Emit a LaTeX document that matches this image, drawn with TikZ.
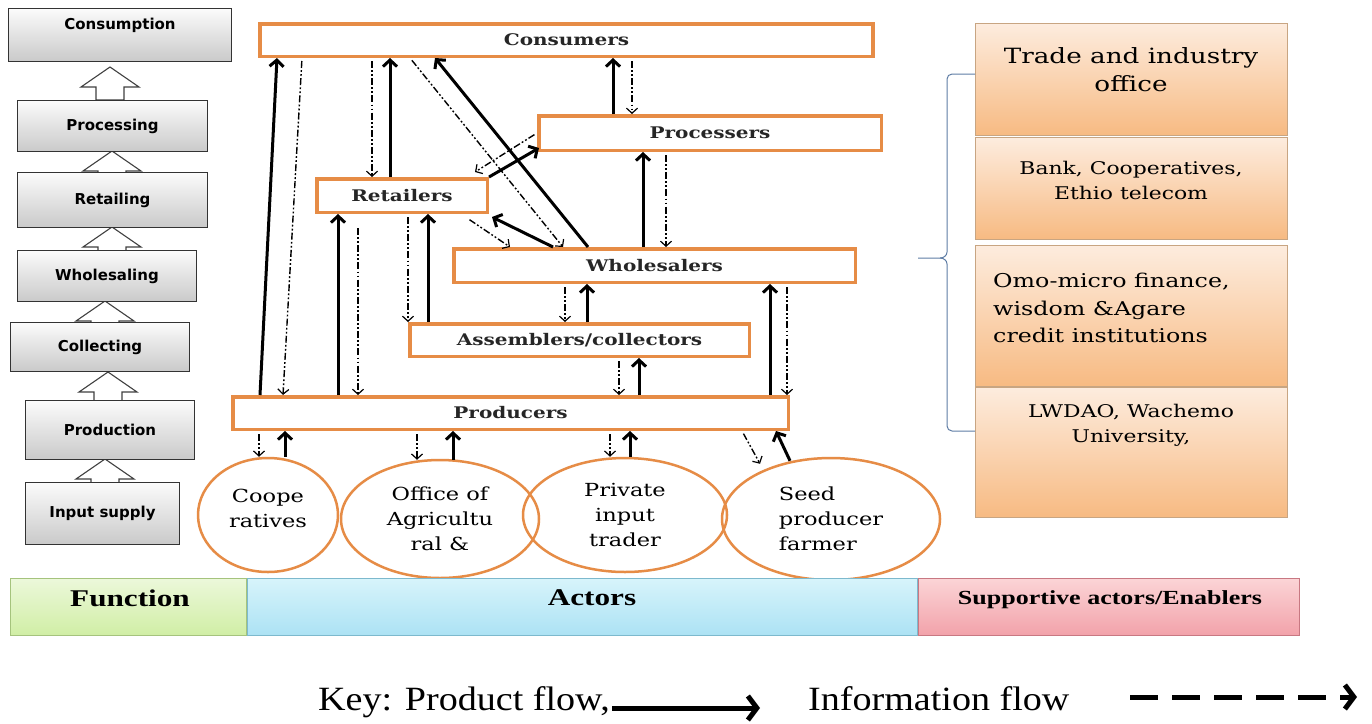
\documentclass[tikz,border=0pt]{standalone}
\usepackage{fontspec}
\setmainfont{DejaVu Serif}
\newfontfamily\lsans{DejaVu Sans}
\newfontfamily\wserif{DejaVu Serif}[FakeStretch=1.25]
\newfontfamily\bserif{Liberation Serif}[FakeStretch=1.3]
\newfontfamily\kserif{Liberation Serif}[FakeStretch=1.12]
\usetikzlibrary{arrows.meta,calc,shapes.geometric}
\definecolor{orng}{RGB}{230,140,70}
\definecolor{rtop}{RGB}{253,236,222}
\definecolor{rbot}{RGB}{247,186,130}
\definecolor{rbord}{RGB}{200,165,130}
\definecolor{gtop}{RGB}{236,248,218}
\definecolor{gbot}{RGB}{208,238,165}
\definecolor{gbord}{RGB}{165,195,125}
\definecolor{ctop}{RGB}{215,244,251}
\definecolor{cbot}{RGB}{172,226,244}
\definecolor{cbord}{RGB}{125,185,205}
\definecolor{ptop}{RGB}{251,212,214}
\definecolor{pbot}{RGB}{242,162,170}
\definecolor{pbord}{RGB}{200,120,130}
\definecolor{brace}{RGB}{95,125,165}
\newcommand{\hup}[3]{\draw[harrow] (#1,#2) -- ++(29,20) -- ++(-15,0) -- (#1+14,#3) -- (#1-14,#3) -- (#1-14,#2+20) -- ++(-15,0) -- cycle;}
\begin{document}
\begin{tikzpicture}[x=1pt,y=-1pt,
  lbox/.style={draw=black!80, line width=1.3pt, top color=gray!3, bottom color=gray!42, inner sep=0pt, font=\lsans\bfseries\fontsize{15}{18}\selectfont},
  ltext/.style={inner sep=0pt, font=\lsans\bfseries\fontsize{15}{18}\selectfont},
  harrow/.style={draw=black!75, line width=1.1pt, fill=white, line join=miter},
  abox/.style={draw=orng, line width=3.5pt, fill=white, inner sep=0pt, font=\wserif\bfseries\fontsize{16}{18}\selectfont, text=black!85},
  ell/.style={ellipse, draw=orng, line width=2.5pt, inner sep=0pt, align=center, font=\wserif\fontsize{18}{25}\selectfont},
  rbox/.style={draw=rbord, line width=1pt, top color=rtop, bottom color=rbot, inner sep=0pt, minimum width=312pt},
  rtext/.style={inner sep=0pt, align=center, font=\wserif\fontsize{17.5}{25}\selectfont},
  bbox/.style={line width=1pt, inner sep=0pt, minimum height=57pt},
  btext/.style={inner sep=0pt, font=\bserif\bfseries\fontsize{24}{28}\selectfont},
  prod/.style={draw=black, line width=3pt, -{Straight Barb[length=6.5pt,width=14pt]}},
  info/.style={draw=black, line width=1.4pt, dash pattern=on 7pt off 2.2pt on 1.8pt off 2.2pt on 1.8pt off 2.2pt, -{Straight Barb[length=5pt,width=11pt,line width=1.2pt]}, shorten <=3pt},
  keyprod/.style={draw=black, line width=5pt, -{Straight Barb[length=9pt,width=24pt]}},
  keyinfo/.style={draw=black, line width=5pt, dash pattern=on 28pt off 14pt, -{Straight Barb[length=9pt,width=24pt]}},
]
\useasboundingbox (0,0) rectangle (1372,723);
\fill[white] (0,0) rectangle (1372,723);

% ---------- left column: functions ----------
\hup{110}{67}{100}
\hup{112}{151}{175}
\hup{112}{227}{252}
\hup{105}{301}{325}
\hup{108}{372}{402}
\hup{105}{459}{485}
\node[lbox, minimum width=223pt, minimum height=53pt] (fcons) at (120,35) {};
\node[ltext] (fconst) at (120,25) {Consumption};
\node[lbox, minimum width=190pt, minimum height=51pt] (fproc) at (112.5,126) {Processing};
\node[lbox, minimum width=190pt, minimum height=55pt] (fret) at (112.5,200) {Retailing};
\node[lbox, minimum width=179pt, minimum height=51pt] (fwhol) at (107,276) {Wholesaling};
\node[lbox, minimum width=179pt, minimum height=49pt] (fcoll) at (100,347) {Collecting};
\node[lbox, minimum width=169pt, minimum height=59pt] (fprod) at (110,430) {Production};
\node[lbox, minimum width=154pt, minimum height=62pt] (finp) at (102.5,513.5) {Input supply};

% ---------- actors ----------
\node[abox, minimum width=613pt, minimum height=32.5pt] (cons) at (566.5,40) {Consumers};
\node[abox, minimum width=342.5pt, minimum height=34.5pt] (proc) at (710,133) {Processers};
\node[abox, minimum width=170.5pt, minimum height=33.5pt] (ret) at (402,195.5) {Retailers};
\node[abox, minimum width=401.5pt, minimum height=33.5pt] (whol) at (654.5,265.5) {Wholesalers};
\node[abox, minimum width=339.5pt, minimum height=32.5pt] (asm) at (579.5,340) {Assemblers/collectors};
\node[abox, minimum width=555.5pt, minimum height=32.5pt] (prodr) at (510.5,413) {Producers};

\node[ell, minimum width=140pt, minimum height=114pt] (e1) at (268,515) {Coope\\ratives\\[-12pt]\mbox{}};
\node[ell, minimum width=198pt, minimum height=118pt] (e2) at (440,519) {Office of\\Agricultu\\ral \&};
\node[ell, minimum width=204pt, minimum height=114pt] (e3) at (625,515) {Private\\input\\trader};
\node[ell, minimum width=218pt, minimum height=122pt, align=left] (e4) at (831,519) {Seed\\producer\\farmer};

% product flow
\draw[prod] (prodr.north -| 260,0) -- (cons.south -| 277,0);
\draw[prod] (prodr.north -| 338,0) -- (ret.south -| 338,0);
\draw[prod] (ret.north -| 390,0) -- (cons.south -| 390,0);
\draw[prod] (asm.north -| 428,0) -- (ret.south -| 428,0);
\draw[prod] (whol.north -| 588,0) -- (cons.south -| 435,0);
\draw[prod] (whol.north -| 553,0) -- ($(ret.south east)+(3,3)$);
\draw[prod] (ret.north east) -- ($(proc.south west)+(2,-4)$);
\draw[prod] (whol.north -| 643,0) -- (proc.south -| 643,0);
\draw[prod] (proc.north -| 613,0) -- (cons.south -| 613,0);
\draw[prod] (asm.north -| 587,0) -- (whol.south -| 587,0);
\draw[prod] (prodr.north -| 639,0) -- (asm.south -| 639,0);
\draw[prod] (prodr.north -| 770,0) -- (whol.south -| 770,0);
\draw[prod] (e1.north -| 285,0) -- (prodr.south -| 285,0);
\draw[prod] ($(e2.north -| 453,0)+(0,1)$) -- (prodr.south -| 453,0);
\draw[prod] (e3.north -| 630,0) -- (prodr.south -| 630,0);
\draw[prod] ($(e4.north -| 790,0)+(0,4)$) -- (prodr.south -| 776,0);

% information flow
\draw[info] (cons.south -| 302,0) -- (prodr.north -| 283,0);
\draw[info] (cons.south -| 372,0) -- (ret.north -| 372,0);
\draw[info] (cons.south -| 410,0) -- (whol.north -| 563,0);
\draw[info] (proc.west) -- ($(ret.north -| 475,0)+(0,-5)$);
\draw[info, shorten <=14pt] (ret.south -| 358,0) -- (prodr.north -| 358,0);
\draw[info] (ret.south -| 408,0) -- (asm.north -| 408,0);
\draw[info] ($(ret.south -| 467,0)+(0,4)$) -- (whol.north -| 510,0);
\draw[info] (proc.south -| 666,0) -- (whol.north -| 666,0);
\draw[info] (cons.south -| 632,0) -- (proc.north -| 632,0);
\draw[info] (whol.south -| 565,0) -- (asm.north -| 565,0);
\draw[info] (asm.south -| 619,0) -- (prodr.north -| 619,0);
\draw[info] (whol.south -| 787,0) -- (prodr.north -| 787,0);
\draw[info] (prodr.south -| 259,0) -- (e1.north -| 259,0);
\draw[info] (prodr.south -| 417,0) -- ($(e2.north -| 417,0)+(0,1)$);
\draw[info] (prodr.south -| 610,0) -- (e3.north -| 610,0);
\draw[info] (prodr.south -| 742,0) -- ($(e4.north -| 760,0)+(0,7)$);

% ---------- right panel: supportive actors ----------
\node[rbox, minimum height=112pt] (r1) at (1131.5,79.5) {};
\node[rbox, minimum height=102pt] (r2) at (1131.5,188.5) {};
\node[rbox, minimum height=141pt] (r3) at (1131.5,316) {};
\node[rbox, minimum height=130pt] (r4) at (1131.5,452.5) {};
\node[rtext, font=\wserif\fontsize{21}{28}\selectfont] (t1) at (1131,70) {Trade and industry\\office};
\node[rtext] (t2) at (1131,180) {Bank, Cooperatives,\\Ethio telecom};
\node[rtext, anchor=west, align=left, font=\wserif\fontsize{19}{27.5}\selectfont] (t3) at (993,308) {Omo-micro finance,\\wisdom \&Agare\\credit institutions};
\node[rtext] (t4) at (1131,425) {LWDAO, Wachemo\\University,};

\draw[brace, line width=1pt] (975,74) -- (952,74) to[out=180,in=90] (947,79) -- (947,252) to[out=-90,in=0] (940,258) -- (918,258);
\draw[brace, line width=1pt] (940,258) to[out=0,in=90] (947,264) -- (947,426) to[out=-90,in=180] (952,431) -- (975,431);

% ---------- bottom bar ----------
\node[bbox, draw=gbord, top color=gtop, bottom color=gbot, minimum width=236pt] (fb) at (128.5,607) {};
\node[bbox, draw=cbord, top color=ctop, bottom color=cbot, minimum width=670pt] (ab) at (582.5,607) {};
\node[bbox, draw=pbord, top color=ptop, bottom color=pbot, minimum width=381pt] (sb) at (1109,607) {};
\node[btext] (fbt) at (130,598) {Function};
\node[btext] (abt) at (592,598) {Actors};
\node[btext, font=\bserif\bfseries\fontsize{20}{24}\selectfont] (sbt) at (1110,600) {Supportive actors/Enablers};

% ---------- key ----------
\node[inner sep=0pt, anchor=base west, font=\kserif\fontsize{34}{40}\selectfont] (key1) at (318,710) {Key: Product flow,};
\coordinate (k1s) at (612,708);
\coordinate (k1e) at (760,708);
\draw[keyprod] (k1s) -- (k1e);
\node[inner sep=0pt, anchor=base west, font=\kserif\fontsize{34}{40}\selectfont] (key2) at (808,710) {Information flow};
\coordinate (k2s) at (1130,697);
\coordinate (k2e) at (1357,697);
\draw[keyinfo] (k2s) -- (k2e);
\end{tikzpicture}
\end{document}
